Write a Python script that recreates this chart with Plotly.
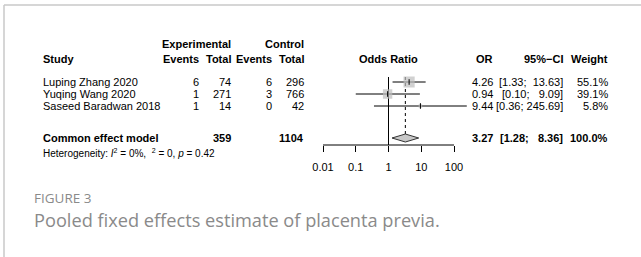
import plotly.graph_objects as go

# ---------------- data ----------------
studies = ["Luping Zhang 2020", "Yuqing Wang 2020", "Saseed Baradwan 2018"]
exp_events = [6, 1, 1]
exp_total = [74, 271, 14]
ctl_events = [6, 3, 0]
ctl_total = [296, 766, 42]
odds_ratio = [4.26, 0.94, 9.44]
ci_lower = [1.33, 0.10, 0.36]
ci_upper = [13.63, 9.09, 245.69]
weights = [55.1, 39.1, 5.8]

pooled_label = "Common effect model"
pooled_or = 3.27
pooled_lower = 1.28
pooled_upper = 8.36
pooled_weight = 100.0
pooled_exp_total = 359
pooled_ctl_total = 1104
heterogeneity = "Heterogeneity: <i>I</i><sup>2</sup> = 0%,  <sup>2</sup> = 0, <i>p</i> = 0.42"

tick_values = [0.01, 0.1, 1, 10, 100]
tick_labels = ["0.01", "0.1", "1", "10", "100"]

figure_label = "FIGURE 3"
caption = "Pooled fixed effects estimate of placenta previa."

# ---------------- layout constants ----------------
W, H = 641, 257
FONT = "Liberation Sans, Arial, Helvetica, sans-serif"
X_ONE = 388.5          # pixel of OR = 1
PX_DEC = 32.75         # pixels per decade
XR = 2.6               # half range in decades
ROW0, DY = 82, 12
Y_SUM = 138
Y_AXIS = 145
NB = "\u00a0"

def paper_x(px):
    return px / W

annotations = []

def txt(px, py, text, anchor="left", bold=False, size=11, color="#000", font=FONT):
    if bold:
        text = "<b>" + text + "</b>"
    annotations.append(dict(
        x=paper_x(px), y=py, xref="paper", yref="y", text=text, showarrow=False,
        xanchor=anchor, yanchor="middle", font=dict(family=font, size=size, color=color),
        borderpad=0,
    ))

def fmt_ci(lo, hi, width):
    up = f"{hi:.2f}"
    up = NB * (width - len(up)) + up
    return f"[{lo:.2f};{NB}{up}]"

ci_width = max(len(f"{v:.2f}") for v in ci_upper + [pooled_upper])

# column positions (right edges)
C_STUDY = 42
C_EE, C_ET, C_CE, C_CT = 200, 232, 273, 305
C_OR, C_CI, C_W = 494, 564, 609

# headers
txt(C_ET, 44, "Experimental", "right", True)
txt(C_CT, 44, "Control", "right", True)
txt(C_STUDY, 59, "Study", "left", True)
txt(C_EE, 59, "Events", "right", True)
txt(C_ET, 59, "Total", "right", True)
txt(C_CE, 59, "Events", "right", True)
txt(C_CT, 59, "Total", "right", True)
txt(X_ONE, 59, "Odds Ratio", "center", True)
txt(C_OR, 59, "OR", "right", True)
txt(C_CI, 59, "95%\u2212CI", "right", True)
txt(C_W, 59, "Weight", "right", True)

row_y = [ROW0 + DY * i for i in range(len(studies))]
for i, s in enumerate(studies):
    y = row_y[i]
    txt(C_STUDY, y, s)
    txt(C_EE, y, str(exp_events[i]), "right")
    txt(C_ET, y, str(exp_total[i]), "right")
    txt(C_CE, y, str(ctl_events[i]), "right")
    txt(C_CT, y, str(ctl_total[i]), "right")
    txt(C_OR, y, f"{odds_ratio[i]:.2f}", "right")
    txt(C_CI, y, fmt_ci(ci_lower[i], ci_upper[i], ci_width), "right")
    txt(C_W, y, f"{weights[i]:.1f}%", "right")

txt(C_STUDY, Y_SUM, pooled_label, "left", True)
txt(C_ET, Y_SUM, str(pooled_exp_total), "right", True)
txt(C_CT, Y_SUM, str(pooled_ctl_total), "right", True)
txt(C_OR, Y_SUM, f"{pooled_or:.2f}", "right", True)
txt(C_CI, Y_SUM, fmt_ci(pooled_lower, pooled_upper, ci_width), "right", True)
txt(C_W, Y_SUM, f"{pooled_weight:.1f}%", "right", True)
txt(C_STUDY, 153, heterogeneity, "left", False, 10)

txt(33, 198, figure_label, "left", False, 13.5, "#8a8a8a", "Open Sans, sans-serif")
txt(33, 220, caption, "left", False, 18.2, "#8a8a8a", "Open Sans, sans-serif")

fig = go.Figure()

line_col = "#000000"
top_line = ROW0 - 5
# reference line at OR = 1
fig.add_trace(go.Scatter(x=[1, 1], y=[top_line, Y_AXIS], mode="lines",
                         line=dict(color=line_col, width=1), hoverinfo="skip"))
# pooled estimate dashed line
fig.add_trace(go.Scatter(x=[pooled_or, pooled_or], y=[top_line, Y_SUM - 4], mode="lines",
                         line=dict(color=line_col, width=1, dash="3px,3px"), hoverinfo="skip"))
# study CI lines
for i in range(len(studies)):
    fig.add_trace(go.Scatter(x=[ci_lower[i], ci_upper[i]], y=[row_y[i], row_y[i]], mode="lines",
                             line=dict(color=line_col, width=1), hoverinfo="skip"))
# squares (area proportional to weight)
fig.add_trace(go.Scatter(x=odds_ratio, y=row_y, mode="markers",
                         marker=dict(symbol="square", color="#bdbdbd",
                                     size=[1.5 * w ** 0.5 for w in weights],
                                     line=dict(width=0)), hoverinfo="skip"))
fig.add_trace(go.Scatter(x=odds_ratio, y=row_y, mode="markers",
                         marker=dict(symbol="line-ns", size=4,
                                     line=dict(color=line_col, width=1)), hoverinfo="skip"))
# diamond
fig.add_trace(go.Scatter(x=[pooled_lower, pooled_or, pooled_upper, pooled_or, pooled_lower],
                         y=[Y_SUM, Y_SUM - 4, Y_SUM, Y_SUM + 4, Y_SUM],
                         mode="lines", fill="toself", fillcolor="#c8c8c8",
                         line=dict(color="#333333", width=1), hoverinfo="skip"))
# axis line
fig.add_trace(go.Scatter(x=[tick_values[0], tick_values[-1]], y=[Y_AXIS, Y_AXIS], mode="lines",
                         line=dict(color=line_col, width=1), hoverinfo="skip"))

shapes = [
    dict(type="line", xref="paper", yref="y", x0=paper_x(4), x1=1, y0=5, y1=5,
         line=dict(color="#c8c8c8", width=1.5)),
    dict(type="line", xref="paper", yref="y", x0=paper_x(4), x1=paper_x(4), y0=5, y1=H,
         line=dict(color="#c8c8c8", width=1.5)),
]

x0 = X_ONE - XR * PX_DEC
x1 = X_ONE + XR * PX_DEC
fig.update_layout(
    width=W, height=H, margin=dict(l=0, r=0, t=0, b=0),
    paper_bgcolor="white", plot_bgcolor="rgba(0,0,0,0)",
    showlegend=False,
    xaxis=dict(type="log", range=[-XR, XR], domain=[x0 / W, x1 / W],
               anchor="free", position=1 - Y_AXIS / H,
               showline=False, showgrid=False, zeroline=False,
               tickmode="array", tickvals=tick_values, ticktext=tick_labels,
               ticks="outside", ticklen=6, tickwidth=1, tickcolor=line_col,
               ticklabelstandoff=6,
               tickfont=dict(family=FONT, size=11, color="#000")),
    yaxis=dict(range=[H, 0], domain=[0, 1], visible=False, showgrid=False, zeroline=False),
    annotations=annotations, shapes=shapes,
)

fig.write_html("out.html", config={"displayModeBar": False, "staticPlot": True},
               post_script="document.body.style.margin='0';document.body.style.padding='0';")
